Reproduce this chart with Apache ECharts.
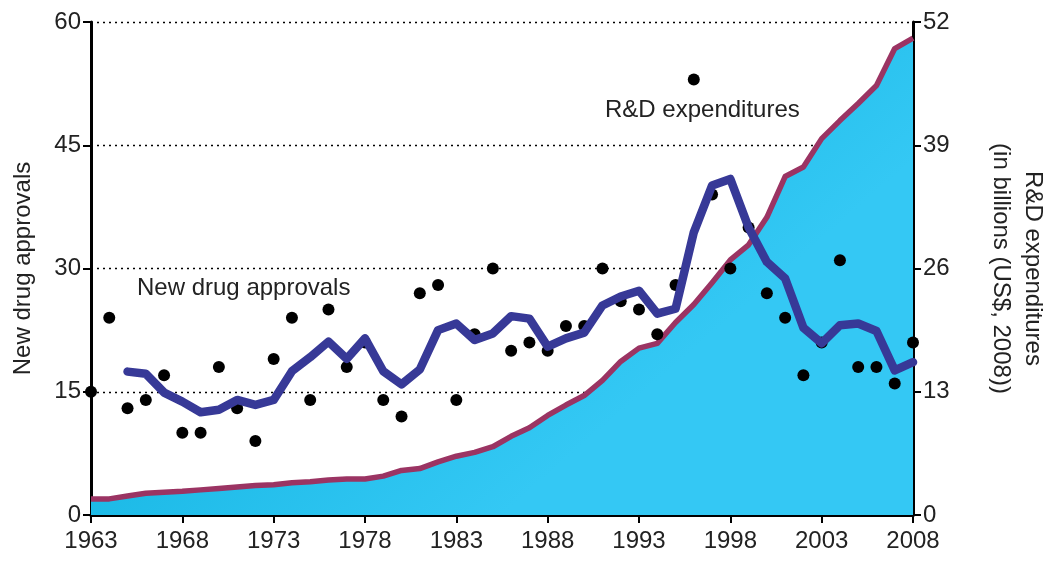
<!DOCTYPE html>
<html>
<head>
<meta charset="utf-8">
<script src="https://cdn.jsdelivr.net/npm/echarts@6/dist/echarts.min.js"></script>
<style>html,body{margin:0;padding:0;background:#fff;}#c{width:1050px;height:562px;}</style>
</head>
<body>
<div id="c"></div>
<script>
const years = [];
for (let y = 1963; y <= 2008; y++) years.push(y);
const approvals = [15,24,13,14,17,10,10,18,13,9,19,24,14,25,18,21,14,12,27,28,14,22,30,20,21,20,23,23,30,26,25,22,28,53,39,30,35,27,24,17,21,31,18,18,16,21];
const rdSpending = [1.7,1.7,2.0,2.3,2.4,2.5,2.65,2.8,2.95,3.1,3.2,3.4,3.5,3.7,3.8,3.8,
  4.1,4.7,4.9,5.6,6.2,6.6,7.2,8.3,9.2,10.5,11.6,12.6,14.2,16.2,17.6,18.1,
  20.3,22.2,24.5,26.9,28.5,31.4,35.7,36.7,39.7,41.6,43.4,45.3,49.2,50.3];
const avgStartYear = 1965;
const approvalsAvg = [17.45,17.2,14.9,13.8,12.5,12.8,14.0,13.4,14.0,17.5,19.2,21.1,19.0,21.5,
  17.5,15.9,17.7,22.5,23.3,21.3,22.1,24.2,23.9,20.5,21.5,22.2,25.5,26.6,27.3,24.5,
  25.1,34.4,40.1,40.9,35.0,30.8,28.8,22.8,20.9,23.1,23.3,22.4,17.6,18.6];
const leftTicks = {min: 0, max: 60, interval: 15};
const rightTicks = {min: 0, max: 52, interval: 13};
const xTicks = {min: 1963, max: 2008, interval: 5};

const font = 'Liberation Sans, Arial, sans-serif';
const fs = 24;
const chart = echarts.init(document.getElementById('c'), null, {renderer: 'canvas'});
chart.setOption({
  animation: false,
  backgroundColor: '#fff',
  grid: {left: 91, right: 137, top: 22, bottom: 47, containLabel: false, outerBoundsMode: 'none'},
  xAxis: {
    type: 'value', min: xTicks.min, max: xTicks.max, interval: xTicks.interval,
    axisLine: {lineStyle: {color: '#000', width: 3}},
    axisTick: {show: true, length: 8, lineStyle: {color: '#000', width: 2}},
    axisLabel: {color: '#222', fontSize: fs, fontFamily: font, margin: 14, formatter: v => String(v)},
    splitLine: {show: false}
  },
  yAxis: [{
    type: 'value', min: leftTicks.min, max: leftTicks.max, interval: leftTicks.interval,
    name: 'New drug approvals', nameLocation: 'middle', nameGap: 56, nameRotate: 90,
    nameTextStyle: {color: '#222', fontSize: fs, fontFamily: font},
    axisLine: {show: true, lineStyle: {color: '#000', width: 3}},
    axisTick: {show: true, length: 8, lineStyle: {color: '#000', width: 2}},
    axisLabel: {color: '#222', fontSize: fs, fontFamily: font, margin: 10},
    splitLine: {show: true, lineStyle: {color: '#000', width: 1.3, type: [2, 4]}}
  }, {
    type: 'value', min: rightTicks.min, max: rightTicks.max, interval: rightTicks.interval,
    position: 'right',
    name: 'R&D expenditures\n(in billions (US$, 2008))', nameLocation: 'middle', nameGap: 72, nameRotate: -90,
    nameTextStyle: {color: '#222', fontSize: fs, fontFamily: font, lineHeight: 32},
    axisLine: {show: true, lineStyle: {color: '#000', width: 3}},
    axisTick: {show: true, length: 8, lineStyle: {color: '#000', width: 2}},
    axisLabel: {color: '#222', fontSize: fs, fontFamily: font, margin: 10},
    splitLine: {show: false}
  }],
  series: [{
    name: 'R&D expenditures', type: 'line', yAxisIndex: 1, z: 1,
    data: years.map((y, i) => [y, rdSpending[i]]),
    symbol: 'none',
    lineStyle: {color: '#9b3463', width: 5.5, join: 'round'},
    areaStyle: {
      opacity: 1,
      color: new echarts.graphic.LinearGradient(0, 0, 0.5, 1, [
        {offset: 0, color: '#0797c2'},
        {offset: 0.45, color: '#17b7e4'},
        {offset: 1, color: '#34c8f4'}
      ])
    }
  }, {
    name: 'approvals', type: 'scatter', yAxisIndex: 0, z: 3,
    data: years.map((y, i) => [y, approvals[i]]),
    symbolSize: 12,
    itemStyle: {color: '#000', opacity: 1}
  }, {
    name: 'approvals average', type: 'line', yAxisIndex: 0, z: 4,
    data: approvalsAvg.map((v, i) => [avgStartYear + i, v]),
    symbol: 'none',
    lineStyle: {color: '#373997', width: 8.5, cap: 'round', join: 'round'}
  }],
  graphic: [{
    type: 'text', left: 137, top: 276,
    style: {text: 'New drug approvals', fill: '#222', font: fs + 'px ' + font}
  }, {
    type: 'text', left: 605, top: 98,
    style: {text: 'R&D expenditures', fill: '#222', font: fs + 'px ' + font}
  }]
});
</script>
</body>
</html>
